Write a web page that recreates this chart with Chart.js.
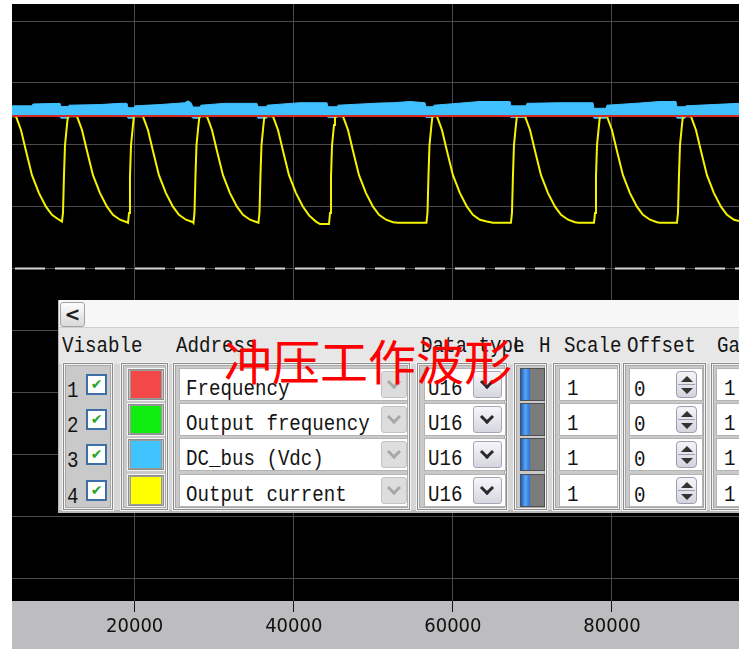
<!DOCTYPE html>
<html>
<head>
<meta charset="utf-8">
<title>冲压工作波形</title>
<script src="https://cdn.jsdelivr.net/npm/chart.js@4.4.1/dist/chart.umd.min.js"></script>
<style>
  body { margin: 0; background: #fff; }
  #wrap { position: relative; width: 750px; height: 649px; overflow: hidden; }
  #wrap canvas { position: absolute; left: 0; top: 0; }
  #panel { position: absolute; left: 58px; top: 300px; width: 681px; height: 213px; overflow: hidden; background: #d6d6d6; }
  #panel div { position: absolute; box-sizing: border-box; }
  .t { font-family: 'Liberation Mono', 'DejaVu Sans Mono', monospace; font-size: 22px; line-height: 24px; color: #141414; white-space: pre; transform: scaleX(0.87); transform-origin: 0 0; }
  #title { position: absolute; left: 224px; top: 335px; font-family: 'Noto Sans CJK SC', sans-serif; font-size: 48px; line-height: 48px; color: #ff0000; white-space: nowrap; }
</style>
</head>
<body>
<div id="wrap">
  <canvas id="grafico" width="750" height="649"></canvas>
  <div id="panel"></div>
  <div id="title">冲压工作波形</div>
</div>
<script>
// eixo X (amostras)
const xMin = 4580;
const xMax = 95970;
const xTickValues = [20000, 40000, 60000, 80000];
const yGridValues = [-5000, -4000, -3000, -2000, -1000, 0, 1000, 2000, 3000, 4000];

// canal 1: Frequency (vermelho, constante)
const redLevel = 2465;

// canal 4: Output current (amarelo)
const yellowX = [
  4580, 5080, 5710, 6340, 7090, 7970, 8850, 9600, 10480, 10860,
  10990, 11110, 11240, 11490, 11610,
  12750, 13380, 14010, 14760, 15640, 16520, 17270, 18150, 19030, 19160,
  19290, 19410, 19540, 19790, 19910,
  21040, 21670, 22300, 23050, 23930, 24810, 25570, 26450, 27330, 27390,
  27520, 27640, 27770, 28020, 28140,
  29090, 29720, 30350, 31100, 31980, 32860, 33620, 34500, 35380, 35560,
  35690, 35810, 35940, 36190, 36310,
  37390, 38020, 38650, 39400, 40280, 41160, 41920, 42790, 43300, 44430,
  44560, 44680, 44810, 45060, 45180,
  46190, 46820, 47450, 48200, 49080, 49960, 50720, 51600, 52480, 53100, 56680,
  56810, 56930, 57060, 57310, 57430,
  58000, 58630, 59260, 60010, 60890, 61770, 62520, 63400, 64280, 65040, 67300,
  67430, 67550, 67680, 67930, 68050,
  69070, 69700, 70330, 71080, 71960, 72840, 73600, 74480, 75360, 75800, 77740,
  77870, 77990, 78120, 78370, 78490,
  79370, 80000, 80630, 81380, 82260, 83140, 83900, 84780, 85660, 86030, 88170,
  88300, 88420, 88550, 88800, 88920,
  89930, 90560, 91190, 91940, 92820, 93700, 94460, 95340, 95970
];
const yellowY = [
  2460, 2460, 2240, 1900, 1510, 1220, 1000, 870, 790, 760,
  900, 1480, 1990, 2320, 2460,
  2460, 2240, 1900, 1510, 1220, 1000, 870, 790, 750, 740,
  900, 1480, 1990, 2320, 2460,
  2460, 2240, 1900, 1510, 1220, 1000, 870, 790, 750, 740,
  900, 1480, 1990, 2320, 2460,
  2460, 2240, 1900, 1510, 1220, 1000, 870, 790, 750, 740,
  900, 1480, 1990, 2320, 2460,
  2460, 2240, 1900, 1510, 1220, 1000, 860, 760, 720, 720,
  900, 1480, 1990, 2320, 2460,
  2460, 2240, 1900, 1510, 1220, 1000, 870, 790, 750, 740, 740,
  900, 1480, 1990, 2320, 2460,
  2460, 2240, 1900, 1510, 1220, 1000, 870, 790, 760, 740, 740,
  900, 1480, 1990, 2320, 2460,
  2460, 2240, 1900, 1510, 1220, 1000, 870, 790, 750, 740, 740,
  900, 1480, 1990, 2320, 2460,
  2460, 2240, 1900, 1510, 1220, 1000, 870, 790, 750, 740, 740,
  900, 1480, 1990, 2320, 2460,
  2460, 2240, 1900, 1510, 1220, 1000, 870, 790, 770
];

// canal 3: DC_bus (azul) - faixa de ruído (topo e base)
const blueX = [
  4580, 7090, 7220, 10610, 10740, 11620, 11740, 15640, 18150, 19030,
  19160, 19910, 20040, 23180, 26320, 26700, 27080, 27330, 28210, 28330,
  31350, 35370, 35500, 36510, 36630, 40780, 44170, 44300, 45430, 45560,
  50840, 52470, 54610, 56490, 56620, 57500, 57630, 59640, 63410, 67180,
  67300, 69190, 69320, 73460, 77610, 77740, 79250, 79370, 83520, 86040,
  88050, 88170, 89180, 89300, 95970
];
const blueTop = [
  2630, 2630, 2660, 2670, 2620, 2620, 2640, 2650, 2670, 2670,
  2600, 2600, 2630, 2650, 2680, 2710, 2680, 2610, 2610, 2640,
  2670, 2670, 2615, 2615, 2640, 2680, 2680, 2615, 2615, 2640,
  2675, 2680, 2700, 2680, 2615, 2615, 2640, 2660, 2700, 2700,
  2630, 2630, 2670, 2680, 2680, 2590, 2590, 2640, 2675, 2700,
  2700, 2615, 2615, 2630, 2670
];
const blueBottom = [
  2460, 2460, 2460, 2460, 2430, 2430, 2460, 2460, 2460, 2460,
  2430, 2430, 2460, 2460, 2460, 2460, 2460, 2430, 2430, 2460,
  2460, 2460, 2430, 2430, 2460, 2460, 2460, 2440, 2440, 2460,
  2460, 2460, 2460, 2460, 2440, 2440, 2460, 2460, 2460, 2460,
  2440, 2440, 2460, 2460, 2460, 2430, 2430, 2460, 2460, 2460,
  2460, 2430, 2430, 2460, 2460
];

// tabela de canais
const channelNums = ['1', '2', '3', '4'];
const channelNames = ['Frequency', 'Output frequency', 'DC_bus (Vdc)', 'Output current'];
const channelColors = ['#f24848', '#10ee10', '#40c4ff', '#ffff00'];
const channelTypes = ['U16', 'U16', 'U16', 'U16'];
const channelScales = ['1', '1', '1', '1'];
const channelOffsets = ['0', '0', '0', '0'];
const channelGains = ['1', '1', '1', '1'];
const headerLabels = ['Visable', 'Address', 'Data type', 'L', 'H', 'Scale', 'Offset', 'Ga'];

function pontos(xs, ys) {
  return xs.map((x, i) => ({ x: x, y: ys[i] }));
}

// fundo preto da área do gráfico e barra cinza do eixo
const fundo = {
  id: 'fundo',
  beforeDraw(chart) {
    const { ctx, chartArea: a, width, height } = chart;
    ctx.save();
    ctx.fillStyle = '#fff';
    ctx.fillRect(0, 0, width, height);
    ctx.fillStyle = '#000';
    ctx.fillRect(a.left, a.top, a.right - a.left, a.bottom - a.top);
    ctx.fillStyle = '#bdbcbe';
    ctx.fillRect(a.left, a.bottom, a.right - a.left, height - a.bottom);
    ctx.restore();
  }
};

function gerarGrafico() {
  const ctx = document.getElementById('grafico').getContext('2d');
  new Chart(ctx, {
    type: 'line',
    data: {
      datasets: [
        {
          data: [{ x: xMin, y: 0 }, { x: xMax, y: 0 }],
          borderColor: '#d6d6d6',
          borderWidth: 2,
          borderDash: [30, 10],
          borderDashOffset: 37,
          order: 0
        },
        {
          label: 'Frequency',
          data: [{ x: xMin, y: redLevel }, { x: xMax, y: redLevel }],
          borderColor: '#d62a2a',
          borderWidth: 2,
          order: 1
        },
        {
          label: 'Output current',
          data: pontos(yellowX, yellowY),
          borderColor: '#f4f400',
          borderWidth: 2,
          order: 2
        },
        {
          label: 'DC_bus min',
          data: pontos(blueX, blueBottom),
          borderColor: '#40c0ff',
          borderWidth: 1,
          fill: false,
          order: 4
        },
        {
          label: 'DC_bus (Vdc)',
          data: pontos(blueX, blueTop),
          borderColor: '#40c0ff',
          backgroundColor: '#40c0ff',
          borderWidth: 1,
          fill: 3,
          order: 3
        }
      ]
    },
    options: {
      responsive: false,
      animation: false,
      events: [],
      elements: { point: { radius: 0 }, line: { tension: 0 } },
      layout: { padding: { left: 12, right: 11, top: 4, bottom: 0 } },
      scales: {
        x: {
          type: 'linear',
          min: xMin,
          max: xMax,
          afterBuildTicks: s => { s.ticks = xTickValues.map(v => ({ value: v })); },
          afterFit: s => { s.height = 48; },
          border: { display: false },
          grid: { color: '#4a4a4a', tickColor: '#111', tickLength: 11 },
          ticks: {
            color: '#111',
            padding: 3,
            maxRotation: 0,
            font: { family: "'DejaVu Sans Condensed', 'DejaVu Sans', sans-serif", size: 20 },
            callback: v => String(v)
          }
        },
        y: {
          type: 'linear',
          min: -5370,
          max: 4275,
          afterBuildTicks: s => { s.ticks = yGridValues.map(v => ({ value: v })); },
          afterFit: s => { s.width = 0; },
          border: { display: false },
          grid: { color: '#4a4a4a', drawTicks: false },
          ticks: { display: false }
        }
      },
      plugins: {
        legend: { display: false },
        tooltip: { enabled: false }
      }
    },
    plugins: [fundo]
  });
}

// painel de canais (sobreposto ao gráfico)
const painel = document.getElementById('panel');

function mk(parent, x, y, w, h, css, text, cls) {
  const d = document.createElement('div');
  let s = 'left:' + x + 'px;top:' + y + 'px;';
  if (w != null) s += 'width:' + w + 'px;';
  if (h != null) s += 'height:' + h + 'px;';
  d.style.cssText = s + (css || '');
  if (cls) d.className = cls;
  if (text != null) d.textContent = text;
  parent.appendChild(d);
  return d;
}
function P(x, y, w, h, css, text, cls) {
  return mk(painel, x - 58, y - 300, w, h, css, text, cls);
}
function seta(parent, cx, cy, cor) {
  mk(parent, cx - 5, cy - 7, 10, 10, 'border-right:3px solid ' + cor + ';border-bottom:3px solid ' + cor + ';transform:rotate(45deg);');
}

function gerarPainel() {
  const linhas = [368, 403, 438, 474];
  const headX = [62, 176, 421, 513, 539, 564, 627, 717];
  const grupos = [[63, 113], [121, 168], [173, 410], [417, 507], [514, 547], [553, 620], [623, 706], [711, 770]];

  P(58, 300, 681, 28, 'background:#f7f7f7;border-bottom:1px solid #cfcfcf;');
  P(60, 302, 25, 25, 'background:linear-gradient(#fdfdfd,#d9d9d9);border:1px solid #a3a3a3;border-radius:3px;font:bold 19px "DejaVu Sans";line-height:22px;text-align:center;color:#1e1e1e;', '<');
  P(58, 328, 681, 36, 'background:#e7e7e7;');
  P(58, 300, 1, 213, 'background:#b4b4b4;');
  P(58, 510, 681, 3, 'background:#b8b8b8;');

  headerLabels.forEach((h, i) => P(headX[i], 335, null, null, '', h, 't'));

  grupos.forEach(g => {
    P(g[0], 363, g[1] - g[0], 147, 'background:#c9c9c9;border:1px solid #8c8c8c;box-shadow:0 0 0 1px #f2f2f2, inset 0 0 0 1px #f2f2f2, inset 0 0 0 2px #a8a8a8;');
  });

  linhas.forEach((top, i) => {
    // Visable
    P(67, top + 12, null, null, '', channelNums[i], 't');
    P(86, top + 6, 21, 21, 'background:#fff;border:2px solid #3d6fa6;color:#27a527;font:bold 14px "DejaVu Sans";line-height:17px;text-align:center;', '✔');
    // cor
    P(127, top, 38, 33, 'background:#c2c2c2;border:1px solid #f4f4f4;box-shadow:inset 0 0 0 1px #8e8e8e;');
    P(130, top + 2, 32, 29, 'background:' + channelColors[i] + ';border:1px solid #9a9a9a;');
    // Address
    P(179, top, 229, 33, 'background:#fff;border:1px solid #b4b4b4;');
    P(186, top + 10, null, null, '', channelNames[i], 't');
    const dd = P(381, top + 3, 26, 27, 'background:#dddddd;border:1px solid #c3c3c3;border-radius:3px;');
    seta(dd, 12, 12, '#a8a8a8');
    // Data type
    P(424, top, 82, 33, 'background:#fff;border:1px solid #b4b4b4;');
    P(428, top + 10, null, null, '', channelTypes[i], 't');
    const dt = P(473, top + 3, 29, 27, 'background:linear-gradient(#f6f6fa,#d6d6e0);border:1px solid #a6a6b6;border-radius:3px;');
    seta(dt, 13, 12, '#2a2a2a');
    // L H
    P(520, top, 25, 33, 'background:#7b7b7b;border:1px solid #505050;');
    P(521, top + 1, 9, 31, 'background:linear-gradient(90deg,#1d5fc4,#5aa6f4,#2a6fd6);');
    // Scale
    P(559, top, 59, 33, 'background:#fff;border:1px solid #b4b4b4;');
    P(567, top + 10, null, null, '', channelScales[i], 't');
    // Offset
    P(629, top, 74, 33, 'background:#fff;border:1px solid #b4b4b4;');
    P(634, top + 11, null, null, '', channelOffsets[i], 't');
    const sp = P(676, top + 3, 21, 27, 'background:linear-gradient(#f4f4f8,#d4d4de);border:1px solid #9c9cb2;border-radius:4px;');
    mk(sp, 4, 4, 0, 0, 'border-left:6px solid transparent;border-right:6px solid transparent;border-bottom:6px solid #333;');
    mk(sp, 1, 12, 17, 1, 'background:#9c9cb2;');
    mk(sp, 4, 16, 0, 0, 'border-left:6px solid transparent;border-right:6px solid transparent;border-top:6px solid #333;');
    // Gain
    P(716, top, 60, 33, 'background:#fff;border:1px solid #b4b4b4;');
    P(724, top + 10, null, null, '', channelGains[i], 't');
  });
}

window.onload = function () {
  gerarGrafico();
  gerarPainel();
};
</script>
</body>
</html>
